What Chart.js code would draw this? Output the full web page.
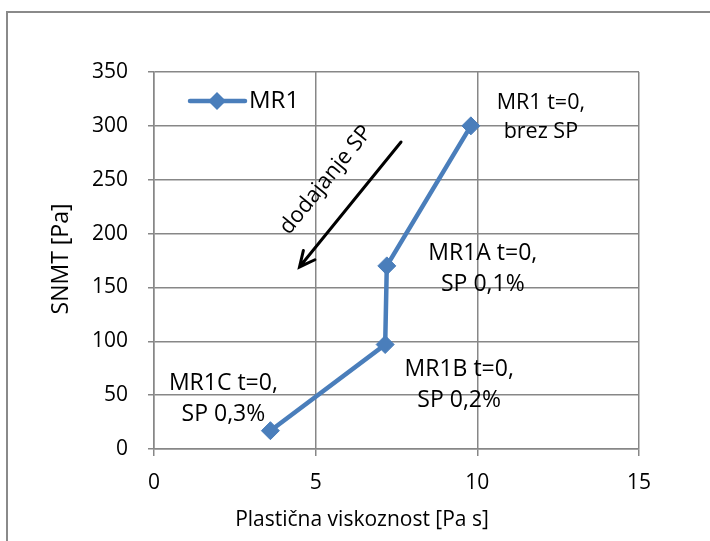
<!DOCTYPE html>
<html>
<head>
<meta charset="utf-8">
<script src="https://cdn.jsdelivr.net/npm/chart.js@4/dist/chart.umd.min.js"></script>
<style>
    body { margin: 0; background: #fff; }
    canvas { display: block; }
</style>
</head>
<body>
<canvas id="chart" width="710" height="541"></canvas>
<script>
// podatki
var seriesName = 'MR1';
var viskoznost = [9.8, 7.2, 7.15, 3.6];
var snmt = [300, 170, 97, 17];
var pointLabels = [
    ['MR1 t=0,', 'brez SP'],
    ['MR1A t=0,', 'SP 0,1%'],
    ['MR1B t=0,', 'SP 0,2%'],
    ['MR1C t=0,', 'SP 0,3%']
];
var xTicks = [0, 5, 10, 15];
var yTicks = [0, 50, 100, 150, 200, 250, 300, 350];
var arrowFrom = [7.64, 285];
var arrowTo = [4.5, 169];
var arrowText = 'dodajanje SP';

var blue = '#4a7ebb';
var gridColor = '#878787';
var font = "'Open Sans', sans-serif";

// odmiki oznak od tock (px) in velikost pisave
var labelOffsets = [[70, -23], [96, -12], [74, 25], [-47, -47]];
var labelSizes = [21.5, 23, 23, 23];
var labelGaps = [29, 31, 31, 31];

function drawDiamond(ctx, x, y, r) {
    ctx.beginPath();
    ctx.moveTo(x - r, y);
    ctx.lineTo(x, y - r);
    ctx.lineTo(x + r, y);
    ctx.lineTo(x, y + r);
    ctx.closePath();
    ctx.fill();
}

var overlay = {
    id: 'overlay',
    beforeDraw: function(chart) {
        var ctx = chart.ctx;
        ctx.save();
        ctx.fillStyle = '#fff';
        ctx.fillRect(0, 0, chart.width, chart.height);
        ctx.strokeStyle = '#8a8a8a';
        ctx.lineWidth = 2;
        ctx.strokeRect(7, 12, 800, 600);
        ctx.restore();
    },
    afterDatasetsDraw: function(chart) {
        var ctx = chart.ctx;
        var x = chart.scales.x, y = chart.scales.y;
        ctx.save();

        // puscica
        var x1 = x.getPixelForValue(arrowFrom[0]), y1 = y.getPixelForValue(arrowFrom[1]);
        var x2 = x.getPixelForValue(arrowTo[0]), y2 = y.getPixelForValue(arrowTo[1]);
        ctx.strokeStyle = '#000';
        ctx.lineWidth = 3;
        ctx.lineCap = 'round';
        ctx.beginPath();
        ctx.moveTo(x1, y1);
        ctx.lineTo(x2, y2);
        var ang = Math.atan2(y2 - y1, x2 - x1);
        var head = 17;
        ctx.moveTo(x2 - head * Math.cos(ang - 0.45), y2 - head * Math.sin(ang - 0.45));
        ctx.lineTo(x2, y2);
        ctx.lineTo(x2 - head * Math.cos(ang + 0.45), y2 - head * Math.sin(ang + 0.45));
        ctx.stroke();

        // besedilo ob puscici
        ctx.fillStyle = '#000';
        ctx.font = '22px ' + font;
        ctx.textAlign = 'center';
        ctx.textBaseline = 'middle';
        ctx.translate(326, 180);
        ctx.rotate(ang - Math.PI);
        ctx.fillText(arrowText, 0, 0);
        ctx.setTransform(1, 0, 0, 1, 0, 0);

        // oznake tock
        var pts = chart.getDatasetMeta(0).data;
        pointLabels.forEach(function(lines, i) {
            var px = pts[i].x + labelOffsets[i][0];
            var py = pts[i].y + labelOffsets[i][1];
            ctx.font = labelSizes[i] + 'px ' + font;
            lines.forEach(function(t, j) {
                ctx.fillText(t, px, py + j * labelGaps[i]);
            });
        });

        // legenda
        ctx.strokeStyle = blue;
        ctx.lineWidth = 4.5;
        ctx.lineCap = 'round';
        ctx.beginPath();
        ctx.moveTo(190, 101);
        ctx.lineTo(245, 101);
        ctx.stroke();
        ctx.fillStyle = blue;
        drawDiamond(ctx, 217, 101, 9);
        ctx.fillStyle = '#000';
        ctx.textAlign = 'left';
        ctx.font = '24px ' + font;
        ctx.fillText(seriesName, 249, 101);

        // naslova osi
        ctx.font = '21px ' + font;
        ctx.textAlign = 'center';
        ctx.fillText('Plastična viskoznost [Pa s]', 362, 520);
        ctx.font = '23px ' + font;
        ctx.translate(61, 259);
        ctx.rotate(-Math.PI / 2);
        ctx.fillText('SNMT [Pa]', 0, 0);
        ctx.restore();
    }
};

var ctx = document.getElementById('chart').getContext('2d');
var chart = new Chart(ctx, {
    type: 'scatter',
    data: {
        datasets: [{
            label: seriesName,
            data: viskoznost.map(function(v, i) { return { x: v, y: snmt[i] }; }),
            showLine: true,
            borderColor: blue,
            borderWidth: 4.5,
            backgroundColor: blue,
            pointStyle: 'rectRot',
            pointRadius: 9,
            pointBorderWidth: 1,
            pointBorderColor: blue
        }]
    },
    options: {
        responsive: false,
        devicePixelRatio: 1,
        animation: false,
        layout: { padding: { left: 0, top: 72, right: 71, bottom: 0 } },
        plugins: {
            legend: { display: false },
            tooltip: { enabled: false }
        },
        scales: {
            x: {
                type: 'linear',
                min: 0,
                max: 15,
                afterFit: function(s) { s.height = 92; },
                afterBuildTicks: function(s) { s.ticks = xTicks.map(function(v) { return { value: v }; }); },
                grid: { color: gridColor, lineWidth: 1.5, tickLength: 7 },
                border: { color: gridColor, width: 1.5 },
                ticks: { color: '#000', font: { family: font, size: 21 }, padding: 14 }
            },
            y: {
                type: 'linear',
                min: 0,
                max: 350,
                afterFit: function(s) { s.width = 154; },
                afterBuildTicks: function(s) { s.ticks = yTicks.map(function(v) { return { value: v }; }); },
                grid: { color: gridColor, lineWidth: 1.5, tickLength: 6 },
                border: { color: gridColor, width: 1.5 },
                ticks: { color: '#000', font: { family: font, size: 21 }, padding: 20 }
            }
        }
    },
    plugins: [overlay]
});
</script>
</body>
</html>
